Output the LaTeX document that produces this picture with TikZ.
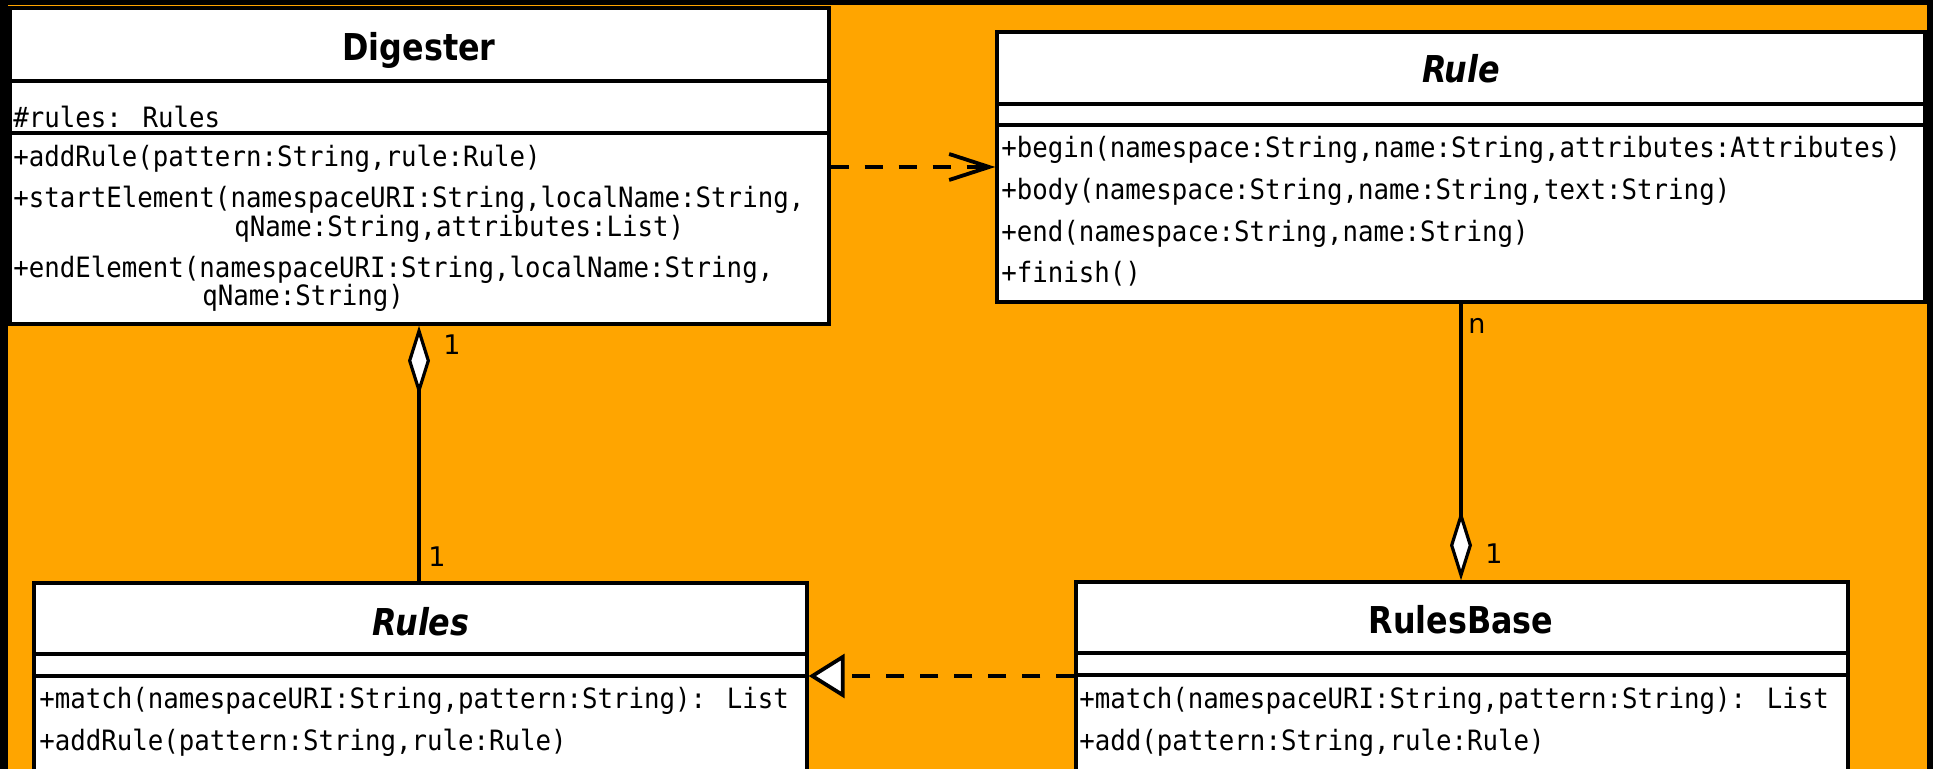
\documentclass[tikz,border=0pt]{standalone}
\usepackage{fontspec}
\usetikzlibrary{arrows.meta,fit}
\newfontfamily\monof[FakeStretch=0.92]{DejaVu Sans Mono}
\newfontfamily\titlef[FakeStretch=0.86]{DejaVu Sans}
\newfontfamily\lblf{DejaVu Sans}
\definecolor{bgorange}{HTML}{FFA500}
\begin{document}
\begin{tikzpicture}[x=0.5pt,y=-0.5pt,
  classbox/.style={draw=black, fill=white, line width=1.7pt, inner sep=0pt},
  sep/.style={line width=1.8pt},
  title/.style={font=\titlef\fontsize{18.5pt}{20pt}\selectfont\bfseries, anchor=base, inner sep=0pt},
  ititle/.style={font=\titlef\fontsize{18.5pt}{20pt}\selectfont\bfseries\itshape, anchor=base, inner sep=0pt},
  member/.style={font=\monof\fontsize{14pt}{16pt}\selectfont, anchor=base west, inner sep=0pt},
  lbl/.style={font=\lblf\fontsize{13.5pt}{15pt}\selectfont, inner sep=0pt},
  dep/.style={line width=1.9pt, dash pattern=on 9pt off 8pt, -{Straight Barb[length=20pt,width=13pt]}},
  real/.style={line width=1.9pt, dash pattern=on 9pt off 8pt, -{Triangle[fill=white,length=18pt,width=22pt]}},
  aggstart/.style={line width=1.6pt, {Diamond[fill=white,length=35pt,width=11pt]}-},
  aggend/.style={line width=1.6pt, -{Diamond[fill=white,length=35pt,width=11pt]}}
]
\useasboundingbox (0,0) rectangle (1933,769);
\clip (0,0) rectangle (1933,769);
\fill[black] (0,0) rectangle (1933,769);
\fill[bgorange] (8,5) rectangle (1927,780);

% Digester
\node[classbox, fit={(10,8) (829,324)}] (digester) {};
\draw[sep] (10,81) -- (829,81);
\draw[sep] (10,133) -- (829,133);
\node[title] (digesterT) at (419,61) {Digester};
\node[member] (d1) at (13,128) {\#rules: Rules};
\node[member] (d2) at (13,167) {+addRule(pattern:String,rule:Rule)};
\node[member] (d3) at (13,208) {+startElement(namespaceURI:String,localName:String,};
\node[member] (d4) at (234,237) {qName:String,attributes:List)};
\node[member] (d5) at (13,278) {+endElement(namespaceURI:String,localName:String,};
\node[member] (d6) at (202,306) {qName:String)};

% Rule
\node[classbox, fit={(997,32) (1925,302)}] (rule) {};
\draw[sep] (997,104) -- (1925,104);
\draw[sep] (997,125) -- (1925,125);
\node[ititle] (ruleT) at (1461,83) {Rule};
\node[member] (r1) at (1001,158) {+begin(namespace:String,name:String,attributes:Attributes)};
\node[member] (r2) at (1001,200) {+body(namespace:String,name:String,text:String)};
\node[member] (r3) at (1001,242) {+end(namespace:String,name:String)};
\node[member] (r4) at (1001,283) {+finish()};

% Rules
\node[classbox, fit={(34,583) (807,800)}] (rules) {};
\draw[sep] (34,654) -- (807,654);
\draw[sep] (34,676) -- (807,676);
\node[ititle] (rulesT) at (421,636) {Rules};
\node[member] (s1) at (39,708) {+match(namespaceURI:String,pattern:String): List};
\node[member] (s2) at (39,750) {+addRule(pattern:String,rule:Rule)};

% RulesBase
\node[classbox, fit={(1076,582) (1848,800)}] (rulesbase) {};
\draw[sep] (1076,653) -- (1848,653);
\draw[sep] (1076,675) -- (1848,675);
\node[title] (rulesbaseT) at (1461,633) {RulesBase};
\node[member] (b1) at (1079,708) {+match(namespaceURI:String,pattern:String): List};
\node[member] (b2) at (1079,750) {+add(pattern:String,rule:Rule)};

% connectors
\draw[dep] (digester.east |- 0,167) -- (rule.west |- 0,167);
\draw[real] (rulesbase.west |- 0,676) -- (rules.east |- 0,676);
\draw[aggstart] (digester.south -| 419,0) -- (rules.north -| 419,0);
\draw[aggend] (rule.south -| 1461,0) -- (rulesbase.north -| 1461,0);

% multiplicities
\node[lbl] (m1) at (452,345) {1};
\node[lbl] (m2) at (437,557) {1};
\node[lbl] (m3) at (1477,326) {n};
\node[lbl] (m4) at (1494,554) {1};
\end{tikzpicture}
\end{document}
